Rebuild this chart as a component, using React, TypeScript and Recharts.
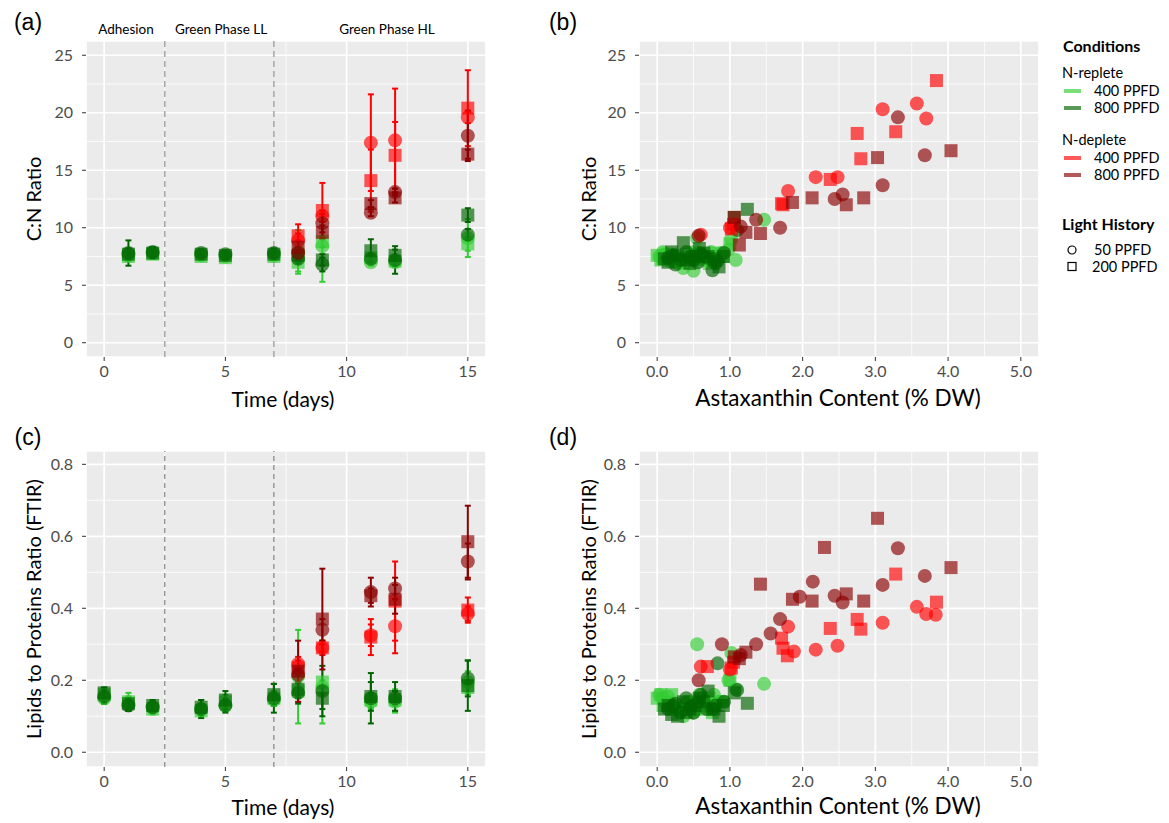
import React from "react";
import {
  CartesianGrid,
  ErrorBar,
  ReferenceLine,
  Scatter,
  ScatterChart,
  XAxis,
  YAxis,
} from "recharts";

const FONT = "Lato, 'Open Sans', sans-serif";

const REP400 = "#32CD32";
const REP800 = "#006400";
const DEP400 = "#FF0000";
const DEP800 = "#8B0000";

// ---- time course (panels a and c) ----
const days = [0, 1, 2, 4, 5, 7, 8, 9, 11, 12, 15];

const cnTimeRep400Circle = [null, 7.6, 7.8, 7.6, 7.5, 7.6, 7.9, 8.4, 7.0, 7.0, 9.1];
const cnTimeRep400CircleSd = [null, 0.3, 0.3, 0.2, 0.2, 0.3, 1.9, 3.1, 0.3, 0.3, 1.65];
const cnTimeRep400Square = [null, 7.5, 7.7, 7.5, 7.4, 7.5, 7.0, 8.8, 7.4, 7.1, 8.6];
const cnTimeRep400SquareSd = [null, 0.4, 0.3, 0.3, 0.2, 0.3, 0.8, 0.5, 0.4, 0.5, 0.6];
const cnTimeRep800Circle = [null, 7.8, 7.9, 7.8, 7.7, 7.8, 7.3, 6.8, 7.3, 7.2, 9.4];
const cnTimeRep800CircleSd = [null, 1.1, 0.4, 0.3, 0.3, 0.4, 0.4, 0.6, 0.3, 1.2, 0.5];
const cnTimeRep800Square = [null, 7.7, 7.8, 7.7, 7.6, 7.7, 7.6, 7.2, 8.0, 7.6, 11.1];
const cnTimeRep800SquareSd = [null, 0.5, 0.5, 0.2, 0.3, 0.3, 0.5, 0.5, 1.0, 0.5, 0.6];
const cnTimeDep400Circle = [null, null, null, null, null, null, 8.9, 11.0, 17.4, 17.6, 19.6];
const cnTimeDep400CircleSd = [null, null, null, null, null, null, 0.6, 0.5, 4.2, 4.5, 0.5];
const cnTimeDep400Square = [null, null, null, null, null, null, 9.3, 11.5, 14.1, 16.3, 20.4];
const cnTimeDep400SquareSd = [null, null, null, null, null, null, 1.0, 2.4, 2.7, 2.9, 3.3];
const cnTimeDep800Circle = [null, null, null, null, null, null, 7.8, 10.4, 11.3, 13.1, 18.0];
const cnTimeDep800CircleSd = [null, null, null, null, null, null, 0.5, 0.8, 0.3, 0.3, 2.2];
const cnTimeDep800Square = [null, null, null, null, null, null, 8.3, 9.6, 12.1, 12.6, 16.4];
const cnTimeDep800SquareSd = [null, null, null, null, null, null, 0.6, 0.6, 0.3, 0.4, 0.4];

const lipTimeRep400Circle = [0.15, 0.135, 0.125, 0.12, 0.13, 0.145, 0.21, 0.18, 0.14, 0.14, 0.195];
const lipTimeRep400CircleSd = [0.015, 0.02, 0.01, 0.015, 0.015, 0.015, 0.13, 0.02, 0.02, 0.03, 0.03];
const lipTimeRep400Square = [0.16, 0.14, 0.12, 0.115, 0.14, 0.15, 0.17, 0.195, 0.145, 0.145, 0.18];
const lipTimeRep400SquareSd = [0.02, 0.025, 0.015, 0.015, 0.02, 0.02, 0.02, 0.115, 0.02, 0.03, 0.02];
const lipTimeRep800Circle = [0.155, 0.13, 0.125, 0.12, 0.13, 0.15, 0.165, 0.17, 0.15, 0.15, 0.205];
const lipTimeRep800CircleSd = [0.02, 0.015, 0.015, 0.025, 0.02, 0.04, 0.03, 0.07, 0.07, 0.02, 0.05];
const lipTimeRep800Square = [0.165, 0.135, 0.13, 0.125, 0.145, 0.16, 0.175, 0.15, 0.155, 0.155, 0.185];
const lipTimeRep800SquareSd = [0.015, 0.015, 0.015, 0.02, 0.025, 0.03, 0.02, 0.03, 0.04, 0.04, 0.07];
const lipTimeDep400Circle = [null, null, null, null, null, null, 0.245, 0.29, 0.325, 0.35, 0.385];
const lipTimeDep400CircleSd = [null, null, null, null, null, null, 0.02, 0.01, 0.03, 0.075, 0.02];
const lipTimeDep400Square = [null, null, null, null, null, null, 0.235, 0.29, 0.32, 0.42, 0.395];
const lipTimeDep400SquareSd = [null, null, null, null, null, null, 0.02, 0.02, 0.05, 0.11, 0.035];
const lipTimeDep800Circle = [null, null, null, null, null, null, 0.215, 0.34, 0.445, 0.455, 0.53];
const lipTimeDep800CircleSd = [null, null, null, null, null, null, 0.02, 0.03, 0.04, 0.03, 0.05];
const lipTimeDep800Square = [null, null, null, null, null, null, 0.225, 0.37, 0.435, 0.425, 0.585];
const lipTimeDep800SquareSd = [null, null, null, null, null, null, 0.085, 0.14, 0.02, 0.04, 0.1];

// ---- astaxanthin scatter (panels b and d) ----
const astaRep400Circle = [0.03, 0.08, 0.1, 0.15, 0.18, 0.25, 0.3, 0.36, 0.42, 0.5, 0.55, 0.58, 0.62, 0.66, 0.7, 0.74, 0.78, 0.85, 0.88, 0.98, 1.02, 1.08, 1.47];
const cnRep400Circle = [7.5, 7.9, 7.7, 7.3, 7.1, 7.6, 6.9, 6.5, 7.4, 6.25, 9.1, 7.8, 7.6, 7.2, 7.3, 7.9, 7.0, 7.5, 7.8, 8.1, 9.0, 7.2, 10.7];
const lipRep400Circle = [0.16, 0.15, 0.14, 0.155, 0.13, 0.12, 0.12, 0.1, 0.14, 0.11, 0.3, 0.16, 0.15, 0.13, 0.13, 0.12, 0.16, 0.14, 0.14, 0.2, 0.276, 0.175, 0.19];

const astaRep400Square = [0.0, 0.05, 0.08, 0.14, 0.2, 0.26, 0.32, 0.4, 0.45, 0.52, 0.55, 0.6, 0.65, 0.72, 0.76, 0.8, 0.9, 1.0];
const cnRep400Square = [7.6, 7.2, 7.3, 7.7, 7.5, 7.1, 7.0, 7.4, 7.7, 7.9, 7.2, 7.6, 7.4, 6.9, 7.3, 7.8, 7.5, 8.6];
const lipRep400Square = [0.15, 0.16, 0.13, 0.14, 0.16, 0.12, 0.12, 0.13, 0.14, 0.12, 0.13, 0.15, 0.12, 0.15, 0.11, 0.13, 0.14, 0.2];

const astaRep800Circle = [0.15, 0.22, 0.25, 0.32, 0.4, 0.46, 0.5, 0.56, 0.6, 0.68, 0.76, 0.8, 0.83, 0.92, 1.1];
const cnRep800Circle = [7.4, 7.6, 6.8, 7.2, 7.9, 7.5, 7.2, 7.0, 7.7, 7.4, 6.3, 6.9, 7.1, 7.8, 9.8];
const lipRep800Circle = [0.12, 0.13, 0.135, 0.11, 0.15, 0.125, 0.11, 0.14, 0.16, 0.12, 0.12, 0.13, 0.247, 0.14, 0.173];

const astaRep800Square = [0.1, 0.15, 0.2, 0.28, 0.36, 0.4, 0.45, 0.52, 0.58, 0.64, 0.7, 0.78, 0.85, 0.91, 1.06, 1.24];
const cnRep800Square = [7.3, 7.0, 7.9, 7.6, 8.7, 7.2, 6.9, 7.5, 8.2, 7.8, 7.5, 7.3, 6.6, 7.5, 10.9, 11.6];
const lipRep800Square = [0.12, 0.13, 0.105, 0.1, 0.14, 0.11, 0.12, 0.13, 0.15, 0.14, 0.17, 0.12, 0.1, 0.13, 0.165, 0.136];

const astaDep400Circle = [3.83, 3.7, 3.57, 3.1, 2.48, 2.18, 1.88, 1.8, 1.0, 0.6];
const cnDep400Circle = [null, 19.5, 20.8, 20.3, 14.4, 14.4, null, 13.2, 10.0, 9.4];
const lipDep400Circle = [0.382, 0.384, 0.404, 0.36, 0.296, 0.285, 0.28, 0.349, 0.23, 0.238];

const astaDep400Square = [3.84, 3.28, 2.8, 2.75, 2.38, 1.79, 1.73, 1.71, 1.05, 1.02, 0.69];
const cnDep400Square = [22.8, 18.35, 16.0, 18.2, 14.2, null, 12.0, 12.1, 10.3, 9.9, null];
const lipDep400Square = [0.417, 0.495, 0.342, 0.369, 0.344, 0.268, 0.289, 0.317, 0.25, 0.234, 0.238];

const astaDep800Circle = [3.68, 3.31, 3.1, 2.55, 2.44, 2.14, 1.96, 1.69, 1.56, 1.36, 1.15, 0.89, 0.57];
const cnDep800Circle = [16.3, 19.6, 13.7, 12.9, 12.5, null, null, 10.0, null, 10.7, 10.1, null, 9.3];
const lipDep800Circle = [0.49, 0.567, 0.465, 0.416, 0.435, 0.474, 0.432, 0.37, 0.33, 0.3, 0.27, 0.3, 0.2];

const astaDep800Square = [4.04, 3.03, 2.84, 2.6, 2.3, 2.13, 1.86, 1.42, 1.22, 1.13, 1.06];
const cnDep800Square = [16.7, 16.1, 12.6, 12.0, null, 12.6, 12.2, 9.5, 9.6, 8.5, 10.9];
const lipDep800Square = [0.513, 0.65, 0.42, 0.44, 0.569, 0.42, 0.425, 0.467, 0.278, 0.26, 0.265];

// ---- axes ----
const timeTicks = [0, 5, 10, 15];
const timeMinor = [2.5, 7.5, 12.5];
const phaseBreaks = [2.5, 7];
const astaTicks = [0, 1, 2, 3, 4, 5];
const astaMinor = [0.5, 1.5, 2.5, 3.5, 4.5];
const cnTicks = [0, 5, 10, 15, 20, 25];
const cnMinor = [2.5, 7.5, 12.5, 17.5, 22.5];
const lipTicks = [0, 0.2, 0.4, 0.6, 0.8];
const lipMinor = [0.1, 0.3, 0.5, 0.7];

type Pt = { x: number; y: number; err: number };

function zip(xs: number[], ys: (number | null)[], errs?: (number | null)[]): Pt[] {
  const out: Pt[] = [];
  xs.forEach((x, i) => {
    const y = ys[i];
    if (y == null) return;
    out.push({ x, y, err: errs ? (errs[i] ?? 0) : 0 });
  });
  return out;
}

type Kind = "circle" | "square";

function makeShape(color: string, kind: Kind) {
  return (props: any) => {
    const { cx, cy } = props;
    if (cx == null || cy == null) return <g />;
    if (kind === "circle") {
      return <circle cx={cx} cy={cy} r={7} fill={color} fillOpacity={0.65} />;
    }
    return <rect x={cx - 6.5} y={cy - 6.5} width={13} height={13} fill={color} fillOpacity={0.65} />;
  };
}

const noShape = () => <g />;

const timeSeries = [
  { color: REP400, kind: "circle" as Kind, cn: zip(days, cnTimeRep400Circle, cnTimeRep400CircleSd), lip: zip(days, lipTimeRep400Circle, lipTimeRep400CircleSd) },
  { color: REP400, kind: "square" as Kind, cn: zip(days, cnTimeRep400Square, cnTimeRep400SquareSd), lip: zip(days, lipTimeRep400Square, lipTimeRep400SquareSd) },
  { color: REP800, kind: "circle" as Kind, cn: zip(days, cnTimeRep800Circle, cnTimeRep800CircleSd), lip: zip(days, lipTimeRep800Circle, lipTimeRep800CircleSd) },
  { color: REP800, kind: "square" as Kind, cn: zip(days, cnTimeRep800Square, cnTimeRep800SquareSd), lip: zip(days, lipTimeRep800Square, lipTimeRep800SquareSd) },
  { color: DEP400, kind: "circle" as Kind, cn: zip(days, cnTimeDep400Circle, cnTimeDep400CircleSd), lip: zip(days, lipTimeDep400Circle, lipTimeDep400CircleSd) },
  { color: DEP400, kind: "square" as Kind, cn: zip(days, cnTimeDep400Square, cnTimeDep400SquareSd), lip: zip(days, lipTimeDep400Square, lipTimeDep400SquareSd) },
  { color: DEP800, kind: "circle" as Kind, cn: zip(days, cnTimeDep800Circle, cnTimeDep800CircleSd), lip: zip(days, lipTimeDep800Circle, lipTimeDep800CircleSd) },
  { color: DEP800, kind: "square" as Kind, cn: zip(days, cnTimeDep800Square, cnTimeDep800SquareSd), lip: zip(days, lipTimeDep800Square, lipTimeDep800SquareSd) },
];

const astaSeries = [
  { color: REP400, kind: "circle" as Kind, cn: zip(astaRep400Circle, cnRep400Circle), lip: zip(astaRep400Circle, lipRep400Circle) },
  { color: REP400, kind: "square" as Kind, cn: zip(astaRep400Square, cnRep400Square), lip: zip(astaRep400Square, lipRep400Square) },
  { color: REP800, kind: "circle" as Kind, cn: zip(astaRep800Circle, cnRep800Circle), lip: zip(astaRep800Circle, lipRep800Circle) },
  { color: REP800, kind: "square" as Kind, cn: zip(astaRep800Square, cnRep800Square), lip: zip(astaRep800Square, lipRep800Square) },
  { color: DEP400, kind: "circle" as Kind, cn: zip(astaDep400Circle, cnDep400Circle), lip: zip(astaDep400Circle, lipDep400Circle) },
  { color: DEP400, kind: "square" as Kind, cn: zip(astaDep400Square, cnDep400Square), lip: zip(astaDep400Square, lipDep400Square) },
  { color: DEP800, kind: "circle" as Kind, cn: zip(astaDep800Circle, cnDep800Circle), lip: zip(astaDep800Circle, lipDep800Circle) },
  { color: DEP800, kind: "square" as Kind, cn: zip(astaDep800Square, cnDep800Square), lip: zip(astaDep800Square, lipDep800Square) },
];

const AXIS_W = 60;
const AXIS_H = 50;
const PAD = 10;

type Plot = { x: number; y: number; w: number; h: number };

type PanelProps = {
  plot: Plot;
  xDomain: [number, number];
  xTicks: number[];
  xMinor: number[];
  xFormat: (v: number) => string;
  yDomain: [number, number];
  yTicks: number[];
  yMinor: number[];
  yFormat: (v: number) => string;
  series: { color: string; kind: Kind; data: Pt[] }[];
  withErrors: boolean;
  dash?: { color: string; width: number; pattern: string };
};

const tickStyle = { fill: "#4D4D4D", fontSize: 16, fontFamily: FONT };

function Panel(p: PanelProps) {
  return (
    <div style={{ position: "absolute", left: p.plot.x - AXIS_W, top: p.plot.y - PAD }}>
      <ScatterChart
        width={p.plot.w + AXIS_W + PAD}
        height={p.plot.h + PAD + AXIS_H}
        margin={{ top: PAD, right: PAD, left: 0, bottom: 0 }}
      >
        <CartesianGrid fill="#EBEBEB" stroke="#FFFFFF" strokeWidth={1.7} />
        <XAxis
          type="number"
          dataKey="x"
          domain={p.xDomain}
          ticks={p.xTicks}
          allowDataOverflow
          interval={0}
          axisLine={false}
          tickLine={{ stroke: "#333333" }}
          tickSize={4}
          tickMargin={5}
          tickFormatter={p.xFormat}
          tick={tickStyle}
          height={AXIS_H}
        />
        <YAxis
          type="number"
          dataKey="y"
          domain={p.yDomain}
          ticks={p.yTicks}
          allowDataOverflow
          interval={0}
          axisLine={false}
          tickLine={{ stroke: "#333333" }}
          tickSize={4}
          tickMargin={9}
          tickFormatter={p.yFormat}
          tick={tickStyle}
          width={AXIS_W}
        />
        {p.xMinor.map((v) => (
          <ReferenceLine key={"xm" + v} x={v} stroke="#FFFFFF" strokeWidth={0.8} />
        ))}
        {p.yMinor.map((v) => (
          <ReferenceLine key={"ym" + v} y={v} stroke="#FFFFFF" strokeWidth={0.8} />
        ))}
        {p.dash &&
          phaseBreaks.map((v) => (
            <ReferenceLine
              key={"ph" + v}
              x={v}
              stroke={p.dash!.color}
              strokeWidth={p.dash!.width}
              strokeDasharray={p.dash!.pattern}
            />
          ))}
        {p.series.map((s, i) => (
          <Scatter
            key={"pts" + i}
            data={s.data}
            shape={makeShape(s.color, s.kind)}
            isAnimationActive={false}
          />
        ))}
        {p.withErrors &&
          p.series.map((s, i) => (
            <Scatter key={"err" + i} data={s.data} shape={noShape} isAnimationActive={false}>
              <ErrorBar dataKey="err" direction="y" width={3} stroke={s.color} strokeWidth={2} />
            </Scatter>
          ))}
      </ScatterChart>
    </div>
  );
}

function Label({ x, y, text, size, rotate, weight, family, anchor }: any) {
  const tx = anchor === "start" ? "0" : "-50%";
  return (
    <div
      style={{
        position: "absolute",
        left: x,
        top: y,
        transform: `translate(${tx}, -50%)${rotate ? " rotate(-90deg)" : ""}`,
        transformOrigin: anchor === "start" ? "left center" : "center",
        fontFamily: family ?? FONT,
        fontSize: size,
        fontWeight: weight ?? "normal",
        color: "#000",
        whiteSpace: "nowrap",
        lineHeight: 1,
      }}
    >
      {text}
    </div>
  );
}

function Swatch({ y, color }: { y: number; color: string }) {
  return (
    <svg style={{ position: "absolute", left: 1062, top: y - 5 }} width={20} height={10}>
      <line x1={2} x2={19} y1={5} y2={5} stroke={color} strokeOpacity={0.65} strokeWidth={4} />
    </svg>
  );
}

const fmtInt = (v: number) => String(v);
const fmt1 = (v: number) => v.toFixed(1);
const TAG_FONT = "'Liberation Sans', Arial, sans-serif";

export default function App() {
  const plotA = { x: 86, y: 41, w: 400, h: 316 };
  const plotB = { x: 639, y: 41, w: 400, h: 316 };
  const plotC = { x: 86, y: 451, w: 400, h: 316 };
  const plotD = { x: 639, y: 451, w: 400, h: 316 };
  return (
    <div
      style={{
        position: "absolute",
        left: 0,
        top: 0,
        width: 1169,
        height: 823,
        background: "#FFFFFF",
        overflow: "hidden",
      }}
    >
      <Panel
        plot={plotA}
        xDomain={[-0.75, 15.75]}
        xTicks={timeTicks}
        xMinor={timeMinor}
        xFormat={fmtInt}
        yDomain={[-1.24, 26.24]}
        yTicks={cnTicks}
        yMinor={cnMinor}
        yFormat={fmtInt}
        series={timeSeries.map((s) => ({ color: s.color, kind: s.kind, data: s.cn }))}
        withErrors
        dash={{ color: "#A6A6A6", width: 1.5, pattern: "6 4" }}
      />
      <Panel
        plot={plotB}
        xDomain={[-0.25, 5.25]}
        xTicks={astaTicks}
        xMinor={astaMinor}
        xFormat={fmt1}
        yDomain={[-1.24, 26.24]}
        yTicks={cnTicks}
        yMinor={cnMinor}
        yFormat={fmtInt}
        series={astaSeries.map((s) => ({ color: s.color, kind: s.kind, data: s.cn }))}
        withErrors={false}
      />
      <Panel
        plot={plotC}
        xDomain={[-0.75, 15.75]}
        xTicks={timeTicks}
        xMinor={timeMinor}
        xFormat={fmtInt}
        yDomain={[-0.041, 0.837]}
        yTicks={lipTicks}
        yMinor={lipMinor}
        yFormat={fmt1}
        series={timeSeries.map((s) => ({ color: s.color, kind: s.kind, data: s.lip }))}
        withErrors
        dash={{ color: "#6E6E6E", width: 1, pattern: "5 4" }}
      />
      <Panel
        plot={plotD}
        xDomain={[-0.25, 5.25]}
        xTicks={astaTicks}
        xMinor={astaMinor}
        xFormat={fmt1}
        yDomain={[-0.041, 0.837]}
        yTicks={lipTicks}
        yMinor={lipMinor}
        yFormat={fmt1}
        series={astaSeries.map((s) => ({ color: s.color, kind: s.kind, data: s.lip }))}
        withErrors={false}
      />

      {/* panel tags */}
      <Label x={28} y={22} text="(a)" size={23} family={TAG_FONT} />
      <Label x={563} y={22} text="(b)" size={23} family={TAG_FONT} />
      <Label x={28} y={437} text="(c)" size={23} family={TAG_FONT} />
      <Label x={563} y={437} text="(d)" size={23} family={TAG_FONT} />

      {/* phase labels */}
      <Label x={126} y={30} text="Adhesion" size={13.5} />
      <Label x={221} y={30} text="Green Phase LL" size={13.5} />
      <Label x={387} y={30} text="Green Phase HL" size={13.5} />

      {/* axis titles */}
      <Label x={33} y={199} text="C:N Ratio" size={20} rotate />
      <Label x={588} y={199} text="C:N Ratio" size={20} rotate />
      <Label x={33} y={609} text="Lipids to Proteins Ratio (FTIR)" size={20} rotate />
      <Label x={588} y={609} text="Lipids to Proteins Ratio (FTIR)" size={20} rotate />
      <Label x={283} y={398} text="Time (days)" size={21} />
      <Label x={838} y={398} text="Astaxanthin Content (% DW)" size={22.5} />
      <Label x={283} y={806} text="Time (days)" size={21} />
      <Label x={838} y={806} text="Astaxanthin Content (% DW)" size={22.5} />

      {/* legend */}
      <Label x={1063} y={46} text="Conditions" size={16} weight="bold" anchor="start" />
      <Label x={1062} y={73} text="N-replete" size={14.5} anchor="start" />
      <Swatch y={91} color={REP400} />
      <Label x={1094} y={91} text="400 PPFD" size={14.5} anchor="start" />
      <Swatch y={108} color={REP800} />
      <Label x={1094} y={108} text="800 PPFD" size={14.5} anchor="start" />
      <Label x={1062} y={140} text="N-deplete" size={14.5} anchor="start" />
      <Swatch y={158} color={DEP400} />
      <Label x={1094} y={158} text="400 PPFD" size={14.5} anchor="start" />
      <Swatch y={175} color={DEP800} />
      <Label x={1094} y={175} text="800 PPFD" size={14.5} anchor="start" />
      <Label x={1062} y={224} text="Light History" size={16} weight="bold" anchor="start" />
      <svg style={{ position: "absolute", left: 1064, top: 242 }} width={16} height={32}>
        <circle cx={8} cy={8} r={4} fill="none" stroke="#000" strokeWidth={1.2} />
        <rect x={4} y={20.5} width={8} height={8} fill="none" stroke="#000" strokeWidth={1.2} />
      </svg>
      <Label x={1094} y={250} text="50 PPFD" size={14.5} anchor="start" />
      <Label x={1092} y={267} text="200 PPFD" size={14.5} anchor="start" />
    </div>
  );
}
